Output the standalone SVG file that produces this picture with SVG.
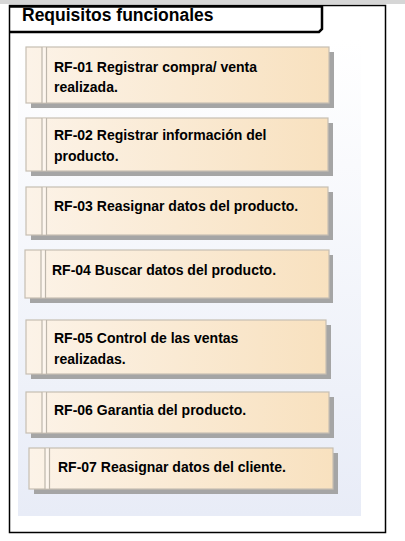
<svg xmlns="http://www.w3.org/2000/svg" width="405" height="541" viewBox="0 0 405 541">
<defs>
<linearGradient id="panelG" x1="0" y1="0" x2="0" y2="1">
<stop offset="0" stop-color="#ffffff"/>
<stop offset="1" stop-color="#e8ecf7"/>
</linearGradient>
<linearGradient id="nodeG" x1="0" y1="0" x2="1" y2="0">
<stop offset="0" stop-color="#fcf3e8"/>
<stop offset="1" stop-color="#f8e1bf"/>
</linearGradient>
<style>
.shadow{fill:#a5a5a5;}
.box{fill:url(#nodeG);stroke:#c6beb2;stroke-width:1.2;}
.div{stroke:#bdb6ab;stroke-width:1.2;fill:none;}
.strip{fill:#fdf6ee;}
.lbl{font-family:"Liberation Sans",Arial,sans-serif;font-weight:bold;font-size:14px;fill:#000;}
.title{font-family:"Liberation Sans",Arial,sans-serif;font-weight:bold;font-size:17.5px;fill:#000;}
</style>
</defs>
<rect x="0" y="0" width="405" height="541" fill="#ffffff"/>
<rect x="0" y="0" width="405" height="4" fill="#d6d6d6"/>
<rect x="18" y="40" width="343" height="476" fill="url(#panelG)"/>
<g id="title">
<text class="title" x="22" y="20.5">Requisitos funcionales</text>
<path d="M9.5 6.5 H322 V29 L319 32 H9.5" fill="none" stroke="#000" stroke-width="2.5"/>
</g>
<rect x="9.5" y="5.5" width="376" height="527" fill="none" stroke="#000" stroke-width="1.5"/>
<g id="connectors"></g>
<g id="rf01">
<rect class="shadow" x="31" y="52" width="303" height="56"/>
<rect class="box" x="26" y="47" width="303" height="56"/>
<rect class="strip" x="42" y="47.6" width="4.5" height="54.8"/>
<line class="div" x1="42" y1="47" x2="42" y2="103"/>
<line class="div" x1="46.5" y1="47" x2="46.5" y2="103"/>
<text class="lbl" x="54" y="72">RF-01 Registrar compra/ venta</text>
<text class="lbl" x="54" y="92">realizada.</text>
</g>
<g id="rf02">
<rect class="shadow" x="31" y="123" width="302" height="53"/>
<rect class="box" x="26" y="118" width="302" height="53"/>
<rect class="strip" x="42" y="118.6" width="4.5" height="51.8"/>
<line class="div" x1="42" y1="118" x2="42" y2="171"/>
<line class="div" x1="46.5" y1="118" x2="46.5" y2="171"/>
<text class="lbl" x="54" y="140">RF-02 Registrar información del</text>
<text class="lbl" x="54" y="161">producto.</text>
</g>
<g id="rf03">
<rect class="shadow" x="31" y="192" width="302" height="48"/>
<rect class="box" x="26" y="187" width="302" height="48"/>
<rect class="strip" x="42" y="187.6" width="4.5" height="46.8"/>
<line class="div" x1="42" y1="187" x2="42" y2="235"/>
<line class="div" x1="46.5" y1="187" x2="46.5" y2="235"/>
<text class="lbl" x="54" y="211">RF-03 Reasignar datos del producto.</text>
</g>
<g id="rf04">
<rect class="shadow" x="30" y="255" width="303" height="48"/>
<rect class="box" x="25" y="250" width="304" height="48"/>
<rect class="strip" x="41" y="250.6" width="4.5" height="46.8"/>
<line class="div" x1="41" y1="250" x2="41" y2="298"/>
<line class="div" x1="45.5" y1="250" x2="45.5" y2="298"/>
<text class="lbl" x="52" y="275">RF-04 Buscar datos del producto.</text>
</g>
<g id="rf05">
<rect class="shadow" x="31" y="325" width="300" height="54"/>
<rect class="box" x="26" y="320" width="300" height="54"/>
<rect class="strip" x="42" y="320.6" width="4.5" height="52.8"/>
<line class="div" x1="42" y1="320" x2="42" y2="374"/>
<line class="div" x1="46.5" y1="320" x2="46.5" y2="374"/>
<text class="lbl" x="54" y="343">RF-05 Control de las ventas</text>
<text class="lbl" x="54" y="364">realizadas.</text>
</g>
<g id="rf06">
<rect class="shadow" x="31" y="397" width="303" height="41"/>
<rect class="box" x="26" y="392" width="303" height="41"/>
<rect class="strip" x="42" y="392.6" width="4.5" height="39.8"/>
<line class="div" x1="42" y1="392" x2="42" y2="433"/>
<line class="div" x1="46.5" y1="392" x2="46.5" y2="433"/>
<text class="lbl" x="54" y="415">RF-06 Garantia del producto.</text>
</g>
<g id="rf07">
<rect class="shadow" x="34" y="453" width="304" height="41"/>
<rect class="box" x="29" y="448" width="304" height="41"/>
<rect class="strip" x="45" y="448.6" width="4.5" height="39.8"/>
<line class="div" x1="45" y1="448" x2="45" y2="489"/>
<line class="div" x1="49.5" y1="448" x2="49.5" y2="489"/>
<text class="lbl" x="58" y="472">RF-07 Reasignar datos del cliente.</text>
</g>
</svg>
